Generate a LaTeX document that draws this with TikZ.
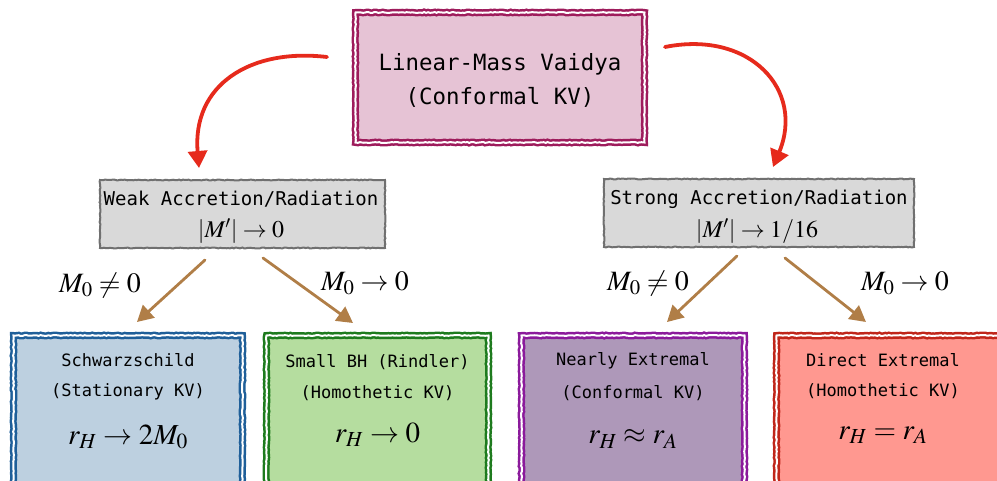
\documentclass[tikz,border=0pt]{standalone}
\usepackage{mathptmx}
\usepackage{fontspec}
\setmonofont{DejaVu Sans Mono}
\usetikzlibrary{arrows.meta,decorations.pathmorphing}
\definecolor{topline}{HTML}{9E1C5C}
\definecolor{topfill}{HTML}{E6C3D5}
\definecolor{grayline}{HTML}{707070}
\definecolor{grayfill}{HTML}{D9D9D9}
\definecolor{blueline}{HTML}{1F5F99}
\definecolor{bluefill}{HTML}{BDD0E0}
\definecolor{greenline}{HTML}{1E7B1E}
\definecolor{greenfill}{HTML}{B5DD9F}
\definecolor{purpline}{HTML}{8B1A9B}
\definecolor{purpfill}{HTML}{AE98B9}
\definecolor{redline}{HTML}{C0261A}
\definecolor{redfill}{HTML}{FF9890}
\definecolor{arrowred}{HTML}{E62A1C}
\definecolor{arrowbrown}{HTML}{B07E47}
\begin{document}
\begin{tikzpicture}[x=1pt,y=-1pt,
  sketch/.style={decorate,decoration={random steps,segment length=2pt,amplitude=0.45pt}},
  dbox/.style 2 args={draw=#1,fill=#2,line width=2.5pt,double=white,double distance=2pt,inner sep=0pt,sketch},
  gbox/.style={draw=grayline,fill=grayfill,line width=2pt,inner sep=0pt,sketch},
  toptext/.style={font=\fontsize{22.4}{34}\selectfont\ttfamily,align=center,inner sep=0pt},
  midtext/.style={font=\fontsize{19}{24}\selectfont\ttfamily,inner sep=0pt},
  midmath/.style={font=\fontsize{24}{28}\selectfont,inner sep=0pt},
  lowtext/.style={font=\fontsize{17}{22}\selectfont\ttfamily,inner sep=0pt},
  lowmath/.style={font=\fontsize{29}{32}\selectfont,inner sep=0pt},
  lbl/.style={font=\fontsize{28}{30}\selectfont,inner sep=0pt},
  redarrow/.style={draw=arrowred,line width=3.8pt,line cap=round,-{Triangle[length=17pt,width=19pt]}},
  brownarrow/.style={draw=arrowbrown,line width=2.8pt,line cap=round,-{Triangle[length=16pt,width=17pt]}}
]
\useasboundingbox (0,0) rectangle (997,481);
\clip (0,0) rectangle (997,481);

% top box
\node[dbox={topline}{topfill},minimum width=289pt,minimum height=130pt] (top) at (500,77.5) {};
\node[toptext] (toplbl) at (500,80) {Linear-Mass Vaidya\\(Conformal KV)};

% middle boxes
\node[gbox,minimum width=285pt,minimum height=68pt] (weak) at (242.5,214) {};
\node[midtext] (weak1) at (241,199) {Weak Accretion/Radiation};
\node[midmath] (weak2) at (241,231) {$|M'|\to 0$};

\node[gbox,minimum width=310pt,minimum height=68pt] (strong) at (759,213) {};
\node[midtext] (strong1) at (759,199) {Strong Accretion/Radiation};
\node[midmath] (strong2) at (757,231) {$|M'|\to 1/16$};

% bottom boxes
\node[dbox={blueline}{bluefill},minimum width=229pt,minimum height=164.5pt] (schw) at (128,417.75) {};
\node[lowtext] (schw1) at (128,360) {Schwarzschild};
\node[lowtext] (schw2) at (128,392) {(Stationary KV)};
\node[lowmath] (schw3) at (128,437) {$r_H\to 2M_0$};

\node[dbox={greenline}{greenfill},minimum width=222pt,minimum height=164.5pt] (small) at (377.5,417.75) {};
\node[lowtext] (small1) at (377.5,362) {Small BH (Rindler)};
\node[lowtext] (small2) at (377.5,393) {(Homothetic KV)};
\node[lowmath] (small3) at (377.5,435) {$r_H\to 0$};

\node[dbox={purpline}{purpfill},minimum width=223pt,minimum height=164.5pt] (near) at (633,417.75) {};
\node[lowtext] (near1) at (633,361) {Nearly Extremal};
\node[lowtext] (near2) at (633,393) {(Conformal KV)};
\node[lowmath] (near3) at (633,439) {$r_H\approx r_A$};

\node[dbox={redline}{redfill},minimum width=228.5pt,minimum height=164.5pt] (direct) at (890.75,417.75) {};
\node[lowtext] (direct1) at (883,360) {Direct Extremal};
\node[lowtext] (direct2) at (883,391) {(Homothetic KV)};
\node[lowmath] (direct3) at (883,435) {$r_H=r_A$};

% labels
\node[lbl] (l1) at (100,285) {$M_0\neq 0$};
\node[lbl] (l2) at (365,283) {$M_0\to 0$};
\node[lbl] (l3) at (648,283) {$M_0\neq 0$};
\node[lbl] (l4) at (905,283) {$M_0\to 0$};

% connector end points
\coordinate (r1s) at (327,57);
\coordinate (r1e) at (199,168);
\coordinate (r2s) at (665,47);
\coordinate (r2e) at (773,167);
\coordinate (b1s) at (205,260);
\coordinate (b1e) at (137,322);
\coordinate (b2s) at (263,258);
\coordinate (b2e) at (353,323);
\coordinate (b3s) at (737,256);
\coordinate (b3e) at (667,322);
\coordinate (b4s) at (785,258);
\coordinate (b4e) at (866,322);

\draw[redarrow] (r1s) .. controls (250,48) and (192,85) .. (r1e);
\draw[redarrow] (r2s) .. controls (750,30) and (805,90) .. (r2e);
\draw[brownarrow] (b1s) -- (b1e);
\draw[brownarrow] (b2s) -- (b2e);
\draw[brownarrow] (b3s) -- (b3e);
\draw[brownarrow] (b4s) -- (b4e);
\end{tikzpicture}
\end{document}
